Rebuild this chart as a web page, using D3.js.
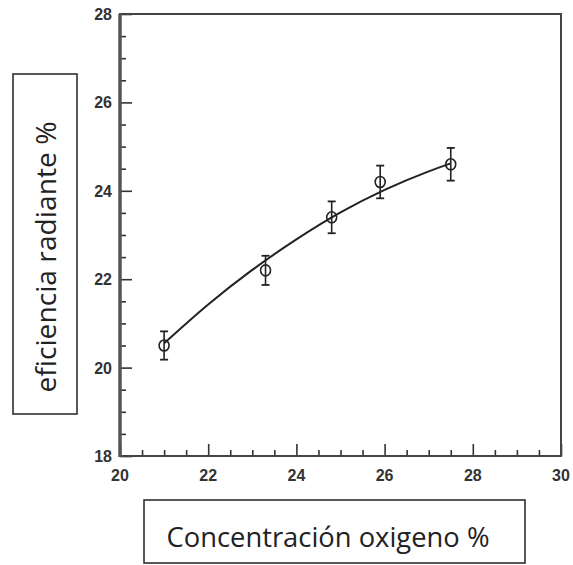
<!DOCTYPE html>
<html>
<head>
<meta charset="utf-8">
<script src="https://cdn.jsdelivr.net/npm/d3@7"></script>
<style>
  body { margin: 0; background: #fff; }
  svg { display: block; }
</style>
</head>
<body>
<div id="chart"></div>
<script>
// measured points (O2 %, efficiency %, error)
const oxygen = [21.0, 23.3, 24.8, 25.9, 27.5];
const efficiency = [20.5, 22.2, 23.4, 24.2, 24.6];
const errors = [0.32, 0.33, 0.36, 0.37, 0.37];

// fitted curve
const fitX = [21.0, 22.0, 23.0, 24.0, 25.0, 26.0, 27.0, 27.5];
const fitY = [20.55, 21.43, 22.21, 22.90, 23.51, 24.02, 24.44, 24.62];

const xTicks = [20, 22, 24, 26, 28, 30];
const yTicks = [18, 20, 22, 24, 26, 28];

const width = 573, height = 565;
const plot = {left: 120, right: 561, top: 14, bottom: 456};

const svg = d3.select("#chart").append("svg")
  .attr("width", width)
  .attr("height", height);

let x = d3.scaleLinear().domain([20, 30]).range([plot.left, plot.right]);
let y = d3.scaleLinear().domain([18, 28]).range([plot.bottom, plot.top]);

// minor ticks every 0.5
let xMinor = d3.range(20, 30.01, 0.5);
let yMinor = d3.range(18, 28.01, 0.5);

let xAxis = d3.axisBottom(x).tickValues(xMinor)
  .tickSize(-6).tickFormat("");
let yAxis = d3.axisLeft(y).tickValues(yMinor)
  .tickSize(-6).tickFormat("");

let gx = svg.append("g")
  .attr("transform", "translate(0," + plot.bottom + ")")
  .call(xAxis);
let gy = svg.append("g")
  .attr("transform", "translate(" + plot.left + ",0)")
  .call(yAxis);

// majors are longer
gx.selectAll(".tick line")
  .attr("y2", d => (xTicks.indexOf(d) >= 0 ? -12 : -6));
gy.selectAll(".tick line")
  .attr("x2", d => (yTicks.indexOf(d) >= 0 ? 12 : 6));

svg.selectAll(".domain").remove();
svg.selectAll(".tick line")
  .attr("stroke", "#333")
  .attr("stroke-width", 1.6);

// frame
svg.append("rect")
  .attr("x", plot.left)
  .attr("y", plot.top)
  .attr("width", plot.right - plot.left)
  .attr("height", plot.bottom - plot.top)
  .attr("fill", "none")
  .attr("stroke", "#444")
  .attr("stroke-width", 2);
svg.append("line")
  .attr("x1", plot.left).attr("x2", plot.left)
  .attr("y1", plot.top).attr("y2", plot.bottom + 1)
  .attr("stroke", "#555")
  .attr("stroke-width", 3.5);

// tick labels
svg.selectAll(".xlab")
  .data(xTicks)
  .enter().append("text")
  .attr("class", "xlab")
  .attr("x", d => x(d))
  .attr("y", plot.bottom + 25)
  .attr("text-anchor", "middle")
  .attr("font-family", "Liberation Sans, Arial, sans-serif")
  .attr("font-weight", "bold")
  .attr("font-size", 16)
  .attr("fill", "#333")
  .text(d => d);

svg.selectAll(".ylab")
  .data(yTicks)
  .enter().append("text")
  .attr("class", "ylab")
  .attr("x", plot.left - 8)
  .attr("y", d => y(d) + 6)
  .attr("text-anchor", "end")
  .attr("font-family", "Liberation Sans, Arial, sans-serif")
  .attr("font-weight", "bold")
  .attr("font-size", 16)
  .attr("fill", "#333")
  .text(d => d);

// fit line
let line = d3.line()
  .x(d => x(d[0]))
  .y(d => y(d[1]))
  .curve(d3.curveMonotoneX);

svg.append("path")
  .datum(d3.zip(fitX, fitY))
  .attr("d", line)
  .attr("fill", "none")
  .attr("stroke", "#222")
  .attr("stroke-width", 2);

// error bars + markers
let pts = svg.selectAll(".pt")
  .data(d3.zip(oxygen, efficiency, errors))
  .enter().append("g")
  .attr("class", "pt");

pts.append("line")
  .attr("x1", d => x(d[0])).attr("x2", d => x(d[0]))
  .attr("y1", d => y(d[1] - d[2])).attr("y2", d => y(d[1] + d[2]))
  .attr("stroke", "#222").attr("stroke-width", 1.6);
pts.append("line")
  .attr("x1", d => x(d[0]) - 4).attr("x2", d => x(d[0]) + 4)
  .attr("y1", d => y(d[1] + d[2])).attr("y2", d => y(d[1] + d[2]))
  .attr("stroke", "#222").attr("stroke-width", 1.8);
pts.append("line")
  .attr("x1", d => x(d[0]) - 4).attr("x2", d => x(d[0]) + 4)
  .attr("y1", d => y(d[1] - d[2])).attr("y2", d => y(d[1] - d[2]))
  .attr("stroke", "#222").attr("stroke-width", 1.8);
pts.append("ellipse")
  .attr("cx", d => x(d[0]))
  .attr("cy", d => y(d[1]))
  .attr("rx", 5).attr("ry", 5.5)
  .attr("fill", "none")
  .attr("stroke", "#222")
  .attr("stroke-width", 1.6);

// axis title boxes
svg.append("rect")
  .attr("x", 13).attr("y", 74)
  .attr("width", 64).attr("height", 340)
  .attr("fill", "#fff")
  .attr("stroke", "#222")
  .attr("stroke-width", 1.5);
svg.append("text")
  .attr("transform", "translate(56,257) rotate(-90)")
  .attr("text-anchor", "middle")
  .attr("font-family", "Open Sans, Noto Sans, sans-serif")
  .attr("font-size", 27)
  .attr("textLength", 271)
  .attr("lengthAdjust", "spacingAndGlyphs")
  .attr("fill", "#222")
  .text("eficiencia radiante %");

svg.append("rect")
  .attr("x", 144).attr("y", 500)
  .attr("width", 381).attr("height", 63)
  .attr("fill", "#fff")
  .attr("stroke", "#222")
  .attr("stroke-width", 1.5);
svg.append("text")
  .attr("x", 328)
  .attr("y", 547)
  .attr("text-anchor", "middle")
  .attr("font-family", "Open Sans, Noto Sans, sans-serif")
  .attr("font-size", 27)
  .attr("textLength", 323)
  .attr("lengthAdjust", "spacingAndGlyphs")
  .attr("fill", "#222")
  .text("Concentración oxigeno %");
</script>
</body>
</html>
